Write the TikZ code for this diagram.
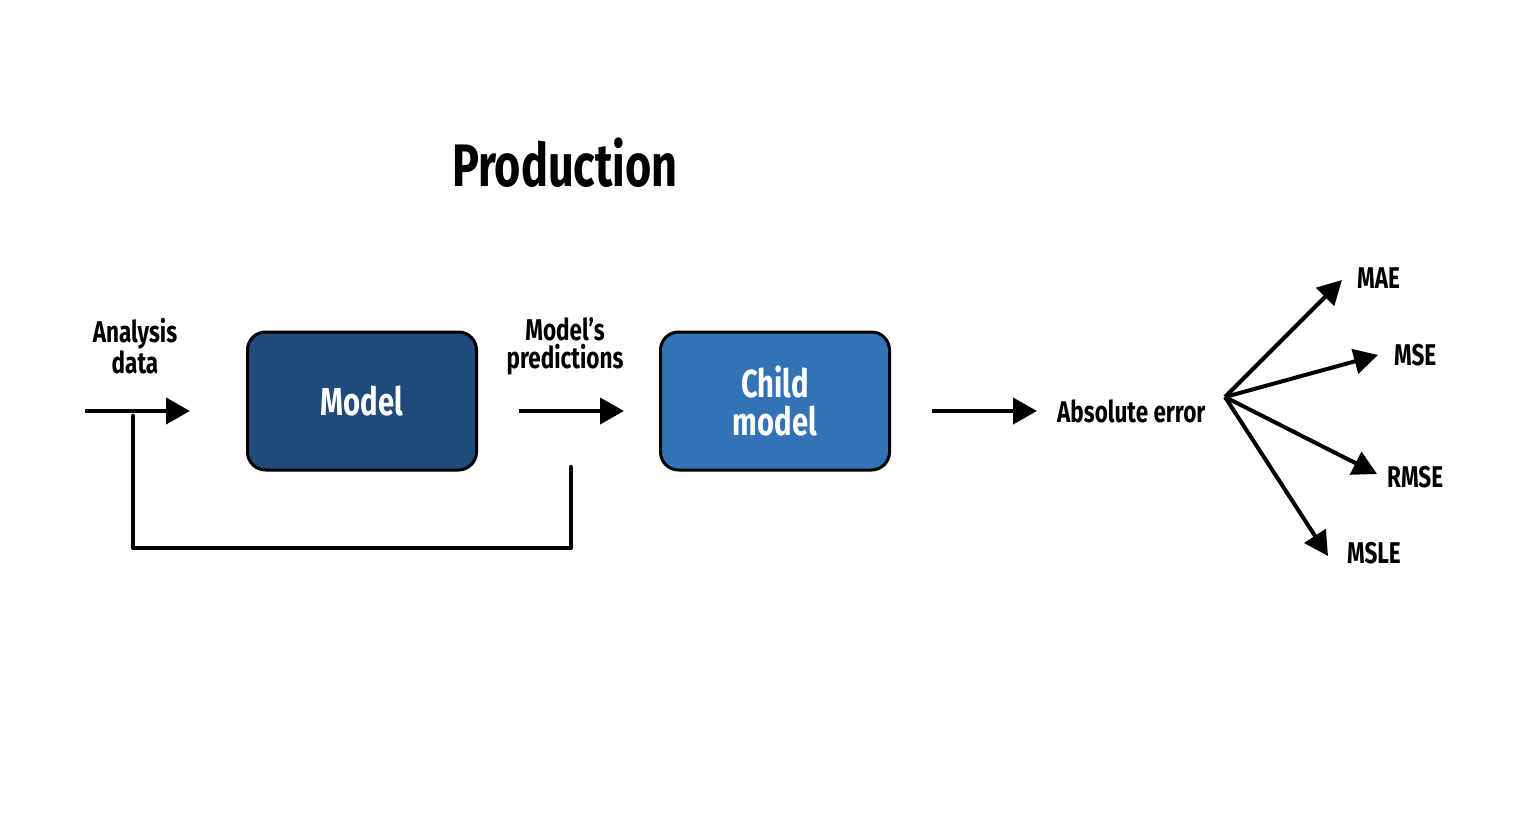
\documentclass[tikz,border=0pt]{standalone}
\usepackage{fontspec}
\setmainfont{Fira Sans}[FakeStretch=0.75]
\usetikzlibrary{arrows.meta}
\definecolor{darkbox}{HTML}{204B7B}
\definecolor{lightbox}{HTML}{3373B5}
\tikzset{
  box/.style={draw=black, line width=3pt, rounded corners=18pt, minimum width=229pt,
    minimum height=138pt, inner sep=0pt, text=white,
    font=\bfseries\fontsize{39}{38}\selectfont, align=center},
  lbl/.style={font=\bfseries\fontsize{30}{28}\selectfont, align=center, inner sep=0pt},
  flow/.style={line width=4pt, -{Triangle[length=24pt,width=26pt]}},
  fan/.style={line width=4pt, -{Triangle[length=24pt,width=25pt]}},
  loopline/.style={line width=4.5pt, line cap=round, line join=round},
}
\begin{document}
\begin{tikzpicture}[x=1pt,y=-1pt]
\useasboundingbox (0,0) rectangle (1532,832);
% title
\node[font=\bfseries\fontsize{60}{60}\selectfont, inner sep=0pt] (title) at (565,163) {Production};
% boxes
\node[box, fill=darkbox] (model) at (362,401) {Model};
\node[box, fill=lightbox] (child) at (775,401) {Child\\model};
% labels
\node[lbl] (analysis) at (135,346) {Analysis\\data};
\node[lbl] (preds) at (565,346) {Model's\\predictions};
\node[lbl, anchor=west] (abs) at (1057,411) {Absolute error};
\node[lbl, anchor=west] (mae) at (1357,278) {MAE};
\node[lbl, anchor=west] (mse) at (1394,355) {MSE};
\node[lbl, anchor=west] (rmse) at (1387,477) {RMSE};
\node[lbl, anchor=west] (msle) at (1347,553) {MSLE};
% main arrows
\coordinate (a1s) at (85,411);  \coordinate (a1e) at (190,411);
\coordinate (a2s) at (519,411); \coordinate (a2e) at (624,411);
\coordinate (a3s) at (932,411); \coordinate (a3e) at (1037,411);
\draw[flow] (a1s) -- (a1e);
\draw[flow] (a2s) -- (a2e);
\draw[flow] (a3s) -- (a3e);
% fan
\coordinate (hub) at (1225,397);
\coordinate (tmae) at (1342,280);
\coordinate (tmse) at (1378,355);
\coordinate (trmse) at (1377,474);
\coordinate (tmsle) at (1328,556);
\draw[fan] (hub) -- (tmae);
\draw[fan] (hub) -- (tmse);
\draw[fan] (hub) -- (trmse);
\draw[fan] (hub) -- (tmsle);
% feedback loop
\coordinate (l1) at (133,416);
\coordinate (l2) at (133,548);
\coordinate (l3) at (571,548);
\coordinate (l4) at (571,467);
\draw[loopline] (l1) -- (l2) -- (l3) -- (l4);
\end{tikzpicture}
\end{document}
